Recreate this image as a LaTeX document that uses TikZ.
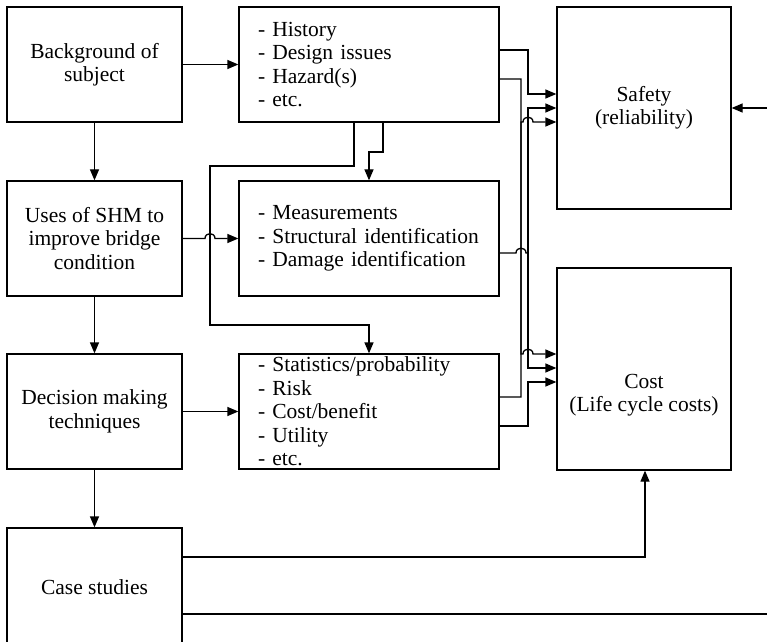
\documentclass[tikz,border=0pt]{standalone}
\usepackage{fontspec}
\setmainfont{Liberation Serif}
\usetikzlibrary{arrows.meta}
\begin{document}
\begin{tikzpicture}[x=1bp,y=-1bp,
  every node/.style={font=\fontsize{21.5bp}{23.5bp}\selectfont},
  wire/.style={line width=1.3bp},
  arr/.style={wire,-{Triangle[length=11bp,width=9bp]}},
  block/.style={draw,line width=1.3bp,inner sep=0pt,minimum width=175bp,minimum height=115bp,align=center},
  listbox/.style={draw,line width=1.3bp,inner xsep=19bp,inner ysep=0pt,text width=222bp,minimum height=115bp,align=left},
  goal/.style={draw,line width=1.3bp,inner sep=0pt,minimum width=174bp,minimum height=202bp,align=center}
]
\useasboundingbox (0,0) rectangle (767,642);

% left column
\node[block] (bg)   at (94.5,64.5)  {Background of\\subject};
\node[block] (uses) at (94.5,238.5) {Uses of SHM to\\improve bridge\\condition};
\node[block] (dec)  at (94.5,411.5) {Decision making\\techniques};
\node[block, minimum height=118bp] (case) at (94.5,587) {Case studies};

% middle column
\node[listbox] (hist) at (369,64.5)  {- History\\- Design issues\\- Hazard(s)\\- etc.};
\node[listbox] (meas) at (369,238.5) {- Measurements\\- Structural identification\\- Damage identification};
\node[listbox] (stat) at (369,411.5) {- Statistics/probability\\- Risk\\- Cost/benefit\\- Utility\\- etc.};

% right column
\node[goal] (safety) at (644,108) {Safety\\(reliability)};
\node[goal] (cost)   at (644,369) {};
\node[align=center] (costtext) at (644,395) {Cost\\(Life cycle costs)};

% left column flow
\draw[arr] (bg) -- (hist.west |- bg);
\draw[arr] (bg) -- (uses);
\draw[arr] (uses) -- (dec);
\draw[arr] (dec) -- (case);
\draw[arr] (dec) -- (stat);
\draw[arr] (uses.east) -- (205,238.5) .. controls (205,232) and (215,232) .. (215,238.5) -- (meas.west);

% from the history box downwards
\draw[arr] (hist.south -| 383,0) -- (383,152) -| (meas.north -| 369,0);
\draw[arr] (hist.south -| 354,0) -- (354,166) -| (210,325) -| (stat.north -| 369,0);

% into safety and cost
\draw[arr] (hist.east |- 0,50) -| (528,94) -- (safety.west |- 0,94);
\draw[arr] (hist.east |- 0,79) -| (521,354) -- (523,354) .. controls (523,347.5) and (533,347.5) .. (533,354) -- (cost.west |- 0,354);

\coordinate (mj) at (528,253);
\draw[wire] (meas.east |- mj) -- (516,253) .. controls (516,246.5) and (526,246.5) .. (526,253) -- (mj);
\draw[arr] (mj) |- (safety.west |- 0,108);
\draw[arr] (mj) |- (cost.west |- 0,368);

\draw[arr] (stat.east |- 0,397) -| (521,122) -- (523,122) .. controls (523,115.5) and (533,115.5) .. (533,122) -- (safety.west |- 0,122);
\draw[arr] (stat.east |- 0,426) -| (528,382) -- (cost.west |- 0,382);

% case studies feedback
\draw[arr] (case.east |- 0,557) -| (cost.south -| 645,0);
\draw[arr] (case.east |- 0,614) -- (800,614) -- (800,108) -- (safety.east |- 0,108);
\end{tikzpicture}
\end{document}
